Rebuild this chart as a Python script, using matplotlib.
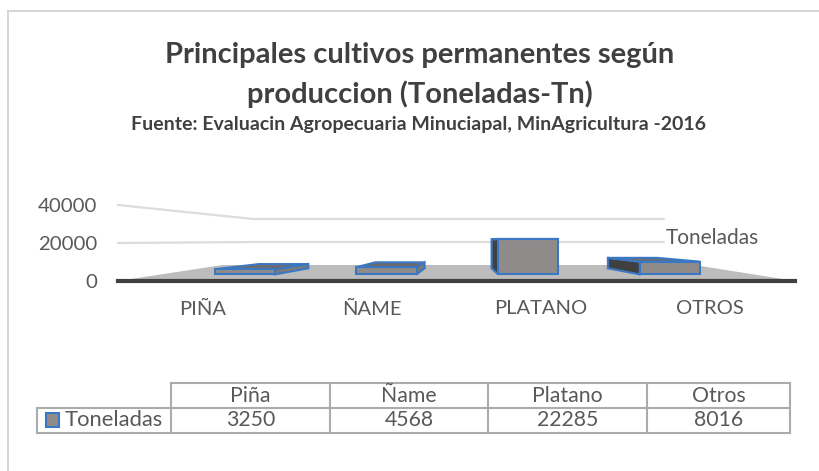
import matplotlib.pyplot as plt
from matplotlib.patches import Polygon, Rectangle
from matplotlib.lines import Line2D

categories = ['PIÑA', 'ÑAME', 'PLATANO', 'OTROS']
table_cols = ['Piña', 'Ñame', 'Platano', 'Otros']
toneladas = [3250, 4568, 22285, 8016]
y_ticks = [0, 20000, 40000]
series_name = 'Toneladas'

plt.rcParams['font.family'] = ['Lato', 'DejaVu Sans']
TXT = '#595959'
EDGE = '#3b78c4'
BAR = '#8f8b8b'

fig = plt.figure(figsize=(8.2, 4.71), dpi=100)

# overlay in pixel units for frame, titles and data table
ov = fig.add_axes([0, 0, 1, 1])
ov.set_xlim(0, 820)
ov.set_ylim(471, 0)
ov.axis('off')

ov.add_line(Line2D([8, 820], [11, 11], color='#d0d0d0', lw=1.2))
ov.add_line(Line2D([8, 8], [11, 471], color='#d0d0d0', lw=1.2))

ov.text(420, 63, 'Principales cultivos permanentes según', ha='center', va='baseline',
        fontsize=21, fontweight='bold', color='#404040')
ov.text(420, 103, 'produccion (Toneladas-Tn)', ha='center', va='baseline',
        fontsize=21, fontweight='bold', color='#404040')
ov.text(419, 130, 'Fuente: Evaluacin Agropecuaria Minuciapal, MinAgricultura -2016',
        ha='center', va='baseline', fontsize=14, fontweight='bold', color='#404040')

# pseudo 3D plot area
ax = fig.add_axes([118 / 820, (471 - 281) / 471, 677 / 820, 91 / 471])
ax.set_xlim(-0.5, 3.5)
ax.set_ylim(0, 47895)
for s in ['top', 'right', 'left']:
    ax.spines[s].set_visible(False)
ax.spines['bottom'].set_color('#404040')
ax.spines['bottom'].set_linewidth(3)
ax.patch.set_alpha(0)

XC, KX, KY, LIFT = 1.53, 0.394, 0.395, 8421
X0, X1 = -0.5, 3.5


def proj(x, v, d):
    return (XC + (x - XC) * (1 - KX * d), d * LIFT + v * (1 - KY * d))


# floor
ax.add_patch(Polygon([proj(X0, 0, 0), proj(X1, 0, 0), proj(X1 + 0.3, 0, 1),
                      proj(X0 - 0.3, 0, 1)],
                     closed=True, fc='#bcbcbc', ec='none', zorder=1))

# gridlines on side and back wall
for v in y_ticks[1:]:
    pts = [proj(X0, v, 0), proj(X0, v, 1), proj(X1, v, 1)]
    ax.plot([p[0] for p in pts], [p[1] for p in pts], color='#dcdcdc', lw=1.6,
            zorder=0.5, clip_on=False)

# boxes
w, d0, d1 = 0.212, 0.414, 0.794
for i, v in enumerate(toneladas):
    xa, xb = i - w, i + w
    if xb < XC:
        xs, side_c = xb, '#7d7979'
    else:
        xs, side_c = xa, '#404040'
    side = [proj(xs, 0, d0), proj(xs, v, d0), proj(xs, v, d1), proj(xs, 0, d1)]
    top = [proj(xa, v, d0), proj(xb, v, d0), proj(xb, v, d1), proj(xa, v, d1)]
    front = [proj(xa, 0, d0), proj(xb, 0, d0), proj(xb, v, d0), proj(xa, v, d0)]
    ax.add_patch(Polygon(side, closed=True, fc=side_c, ec=EDGE, lw=1.5, zorder=2))
    ax.add_patch(Polygon(top, closed=True, fc='#6e6a6a', ec=EDGE, lw=1.5, zorder=3))
    ax.add_patch(Polygon(front, closed=True, fc=BAR, ec=EDGE, lw=1.5, zorder=4))

ax.set_yticks(y_ticks)
ax.set_yticklabels([str(t) for t in y_ticks], fontsize=14.7, color=TXT)
ax.set_xticks(range(len(categories)))
ax.set_xticklabels(categories, fontsize=14.5, color=TXT)
ax.tick_params(axis='y', length=0, pad=15)
ax.tick_params(axis='x', length=0, pad=14)

lx, ly = proj(X1, 20000, 1)
ax.annotate(series_name, (lx, ly), xytext=(2, 4), textcoords='offset pixels',
            ha='left', va='center', fontsize=15, color=TXT)

# data table
col_x = [171, 330, 488, 647, 790]
row_y = [383, 408, 433]
GRID = '#ababab'
ov.add_line(Line2D([col_x[0], col_x[-1]], [row_y[0]] * 2, color=GRID, lw=1.5))
ov.add_line(Line2D([37, col_x[-1]], [row_y[1]] * 2, color=GRID, lw=1.5))
ov.add_line(Line2D([37, col_x[-1]], [row_y[2]] * 2, color=GRID, lw=1.5))
ov.add_line(Line2D([37, 37], [row_y[1], row_y[2]], color=GRID, lw=1.5))
for x in col_x:
    ov.add_line(Line2D([x, x], [row_y[0], row_y[2]], color=GRID, lw=1.5))
for j, (lab, val) in enumerate(zip(table_cols, toneladas)):
    cx = (col_x[j] + col_x[j + 1]) / 2
    ov.text(cx, (row_y[0] + row_y[1]) / 2, lab, ha='center', va='center',
            fontsize=15.3, color=TXT)
    ov.text(cx, (row_y[1] + row_y[2]) / 2, str(val), ha='center', va='center',
            fontsize=15.3, color=TXT)
ov.add_patch(Rectangle((46, 413), 13, 14, fc=BAR, ec=EDGE, lw=1.5))
ov.text(65, (row_y[1] + row_y[2]) / 2, series_name, ha='left', va='center',
        fontsize=15.8, color=TXT)

fig.savefig('out.png', dpi=100)
